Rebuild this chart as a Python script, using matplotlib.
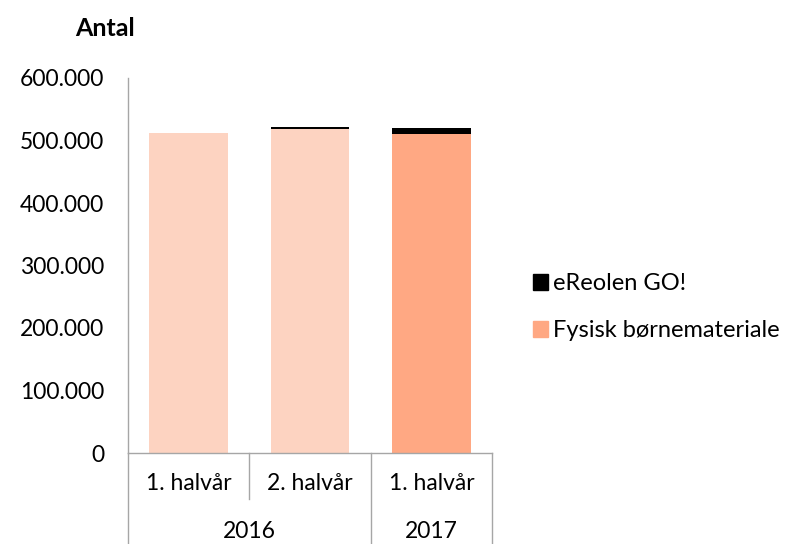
import matplotlib
matplotlib.use("Agg")
import matplotlib.pyplot as plt
from matplotlib.ticker import FuncFormatter
from matplotlib.patches import Patch
import matplotlib.transforms as mtransforms

plt.rcParams["font.family"] = ["Lato", "DejaVu Sans"]

# data
halves = ["1. halvår", "2. halvår", "1. halvår"]
years = ["2016", "2017"]
year_spans = [2, 1]
fysisk = [512000, 518500, 511000]
ereolen = [0, 2500, 9000]

FYSISK_LIGHT = "#fdd3c1"
FYSISK_DARK = "#ffa883"
BLACK = "#000000"
GREY = "#a6a6a6"

fig = plt.figure(figsize=(7.92, 5.44), dpi=100)
ax = fig.add_axes([128 / 792, 1 - 453 / 544, (492 - 128) / 792, (453 - 78) / 544])

x = list(range(len(halves)))
colors = [FYSISK_LIGHT, FYSISK_LIGHT, FYSISK_DARK]
ax.bar(x, fysisk, width=0.65, color=colors, zorder=2)
ax.bar(x, ereolen, bottom=fysisk, width=0.65, color=BLACK, zorder=2)

ax.set_xlim(-0.5, len(halves) - 0.5)
ax.set_ylim(0, 600000)
ax.set_yticks(range(0, 600001, 100000))
ax.yaxis.set_major_formatter(FuncFormatter(lambda v, p: f"{int(v):,}".replace(",", ".")))
ax.tick_params(axis="y", length=0, labelsize=16.5, pad=17)
ax.set_xticks([])
for s in ["top", "right"]:
    ax.spines[s].set_visible(False)
for s in ["left", "bottom"]:
    ax.spines[s].set_color(GREY)
    ax.spines[s].set_linewidth(1.0)

# two-level category axis
trans = mtransforms.blended_transform_factory(ax.transData, ax.transAxes)
h = 453 - 78
bottom_y = -(544 - 453) / h
mid_y = -(499 - 453) / h
for i, lab in enumerate(halves):
    ax.text(i, -(484 - 453) / h, lab, transform=trans, ha="center", va="center", fontsize=16.5)
bounds = [-0.5]
pos = -0.5
for span in year_spans:
    pos += span
    bounds.append(pos)
for b in bounds:
    ax.plot([b, b], [0, bottom_y], transform=trans, color=GREY, lw=1.0, clip_on=False)
for i in range(len(halves) - 1):
    xb = i + 0.5
    if xb not in bounds:
        ax.plot([xb, xb], [0, mid_y], transform=trans, color=GREY, lw=1.0, clip_on=False)
for j, yr in enumerate(years):
    ax.text((bounds[j] + bounds[j + 1]) / 2, -(532 - 453) / h, yr, transform=trans,
            ha="center", va="center", fontsize=16.5)

fig.text(105 / 792, 1 - 29 / 544, "Antal", ha="center", va="center", fontsize=18, fontweight="bold")

leg_handles = [Patch(color=BLACK), Patch(color=FYSISK_DARK)]
ax.legend(leg_handles, ["eReolen GO!", "Fysisk børnemateriale"], loc="center left",
          bbox_to_anchor=(533 / 792, 1 - 307 / 544), bbox_transform=fig.transFigure,
          frameon=False, fontsize=17, handlelength=0.65, handleheight=0.65, handletextpad=0.2,
          labelspacing=1.1, borderaxespad=0, borderpad=0)

fig.savefig("out.png", dpi=100)
